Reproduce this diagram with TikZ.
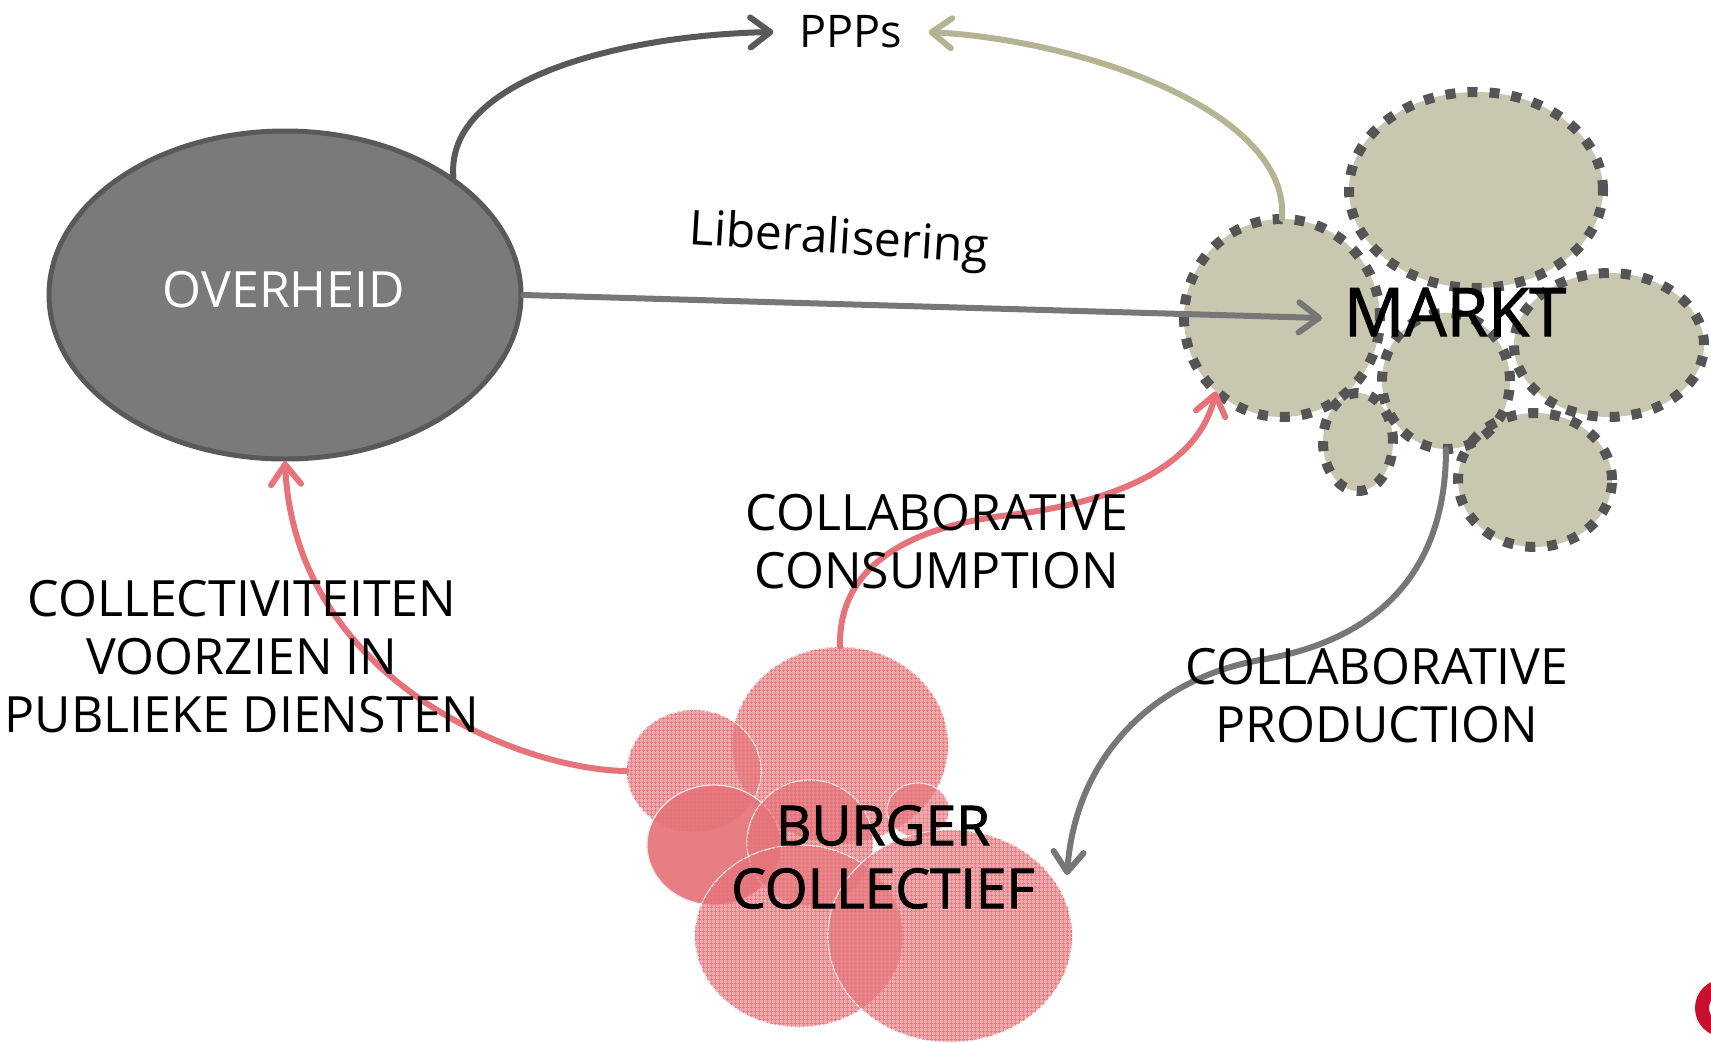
\documentclass[tikz,border=0pt]{standalone}
\usepackage{fontspec}
\setmainfont{Open Sans}
\newfontfamily\heavierfont{Open Sans}[FakeBold=1.6]
\usetikzlibrary{shapes.geometric,arrows.meta,patterns.meta}
\definecolor{ovfill}{HTML}{7A7A7A}
\definecolor{ovline}{HTML}{595959}
\definecolor{mfill}{HTML}{C8C8B0}
\definecolor{mdot}{HTML}{555555}
\definecolor{khaki}{HTML}{B4B493}
\definecolor{arrgray}{HTML}{777777}
\definecolor{darkarr}{HTML}{595959}
\definecolor{bred}{HTML}{E57379}
\definecolor{bedge}{HTML}{EDE6E6}
\definecolor{logored}{HTML}{C8102E}
\begin{document}
\begin{tikzpicture}[x=1pt,y=-1pt,
  mcirc/.style={ellipse, inner sep=0pt, fill=mfill},
  mborder/.style={ellipse, inner sep=0pt, draw=mdot, line width=10pt, dash pattern=on 10pt off 12pt},
  bhatch/.style={ellipse, inner sep=0pt, fill=bred, fill opacity=0.62,
     postaction={pattern={Hatch[angle=0, distance=4pt, line width=0.9pt]}, pattern color=bred, fill opacity=0.85},
     draw=bedge, line width=1.2pt},
  bsolid/.style={ellipse, inner sep=0pt, fill=bred, fill opacity=#1, draw=bedge, line width=1.2pt},
  arr/.style={line width=6pt, line cap=round, -{Straight Barb[length=20pt, width=30pt, round]}},
  txt/.style={inner sep=0pt, align=center, font=\fontsize{50}{58}\selectfont, text=black}
]
\useasboundingbox (0,0) rectangle (1711,1042);

% MARKT cloud
\foreach \n/\x/\y/\w/\h in {mtop/1476/190/254/196, mleft/1282/318/196/198, mright/1609/345/190/144, mmid/1446/381/128/136, msmall/1358/442/70/98, mbr/1535/480/154/134}
  \node[mcirc, minimum width=\w pt, minimum height=\h pt] (\n) at (\x,\y) {};
\foreach \x/\y/\w/\h in {1476/190/254/196, 1282/318/196/198, 1609/345/190/144, 1446/381/128/136, 1358/442/70/98, 1535/480/154/134}
  \node[mborder, minimum width=\w pt, minimum height=\h pt] at (\x,\y) {};

% BURGER COLLECTIEF cloud
\node[bhatch, minimum width=216pt, minimum height=196pt] (btop) at (840,745) {};
\node[bhatch, minimum width=134pt, minimum height=122pt] (bul) at (694,771) {};
\node[bsolid=0.92, minimum width=134pt, minimum height=120pt] (bsl) at (714,845) {};
\node[bhatch, minimum width=126pt, minimum height=126pt] (bmid) at (810,843) {};
\node[bhatch, minimum width=62pt, minimum height=54pt] (bsr) at (918,810) {};
\node[bhatch, minimum width=208pt, minimum height=182pt] (bbl) at (799,936) {};
\node[bhatch, minimum width=244pt, minimum height=212pt] (bbr) at (950,936) {};

% OVERHEID
\node[ellipse, inner sep=0pt, fill=ovfill, draw=ovline, line width=5pt, minimum width=472pt, minimum height=328pt] (overheid) at (285,295) {};

% logo fragment
\begin{scope}
\clip (0,0) rectangle (1711,1042);
\draw[logored, line width=14pt] (1724,1008) circle [radius=22pt];
\end{scope}

% label nodes
\node[txt, font=\fontsize{45}{50}\selectfont, inner xsep=26pt] (ppps) at (851,32) {PPPs};
\node[txt, text=white, font=\fontsize{50}{56}\selectfont] (ovtxt) at (284,290) {OVERHEID};
\node[txt, font=\heavierfont\fontsize{67}{72}\selectfont] (markt) at (1455,312) {MARKT};
\coordinate (libend) at (1322,318);
\coordinate (prodend) at (1067,875);

% connectors
\draw[arr, darkarr] (overheid.35) .. controls (445,80) and (620,35) .. (ppps.west);
\draw[arr, khaki] (mleft.north) .. controls (1290,110) and (1080,40) .. (ppps.east);
\draw[arr, arrgray] (overheid.east) -- (libend);
\draw[arr, bred] (btop.north) .. controls (838,560) and (920,525) .. (1010,515) .. controls (1130,500) and (1200,460) .. (mleft.-132);
\draw[arr, bred] (bul.west) .. controls (520,770) and (295,680) .. (overheid.south);
\draw[arr, arrgray] (mmid.south) .. controls (1446,570) and (1380,640) .. (1260,660) .. controls (1150,680) and (1075,760) .. (prodend);

% texts
\node[txt, font=\fontsize{48}{54}\selectfont, rotate=-3.5] (lib) at (839,241) {Liberalisering};
\node[txt] (collect) at (242,657) {COLLECTIVITEITEN\\VOORZIEN IN\\PUBLIEKE DIENSTEN};
\node[txt] (cons) at (937,542) {COLLABORATIVE\\CONSUMPTION};
\node[txt] (prod) at (1377,696) {COLLABORATIVE\\PRODUCTION};
\node[txt, font=\heavierfont\fontsize{55}{63}\selectfont] (burger) at (883,857) {BURGER\\COLLECTIEF};
\end{tikzpicture}
\end{document}
